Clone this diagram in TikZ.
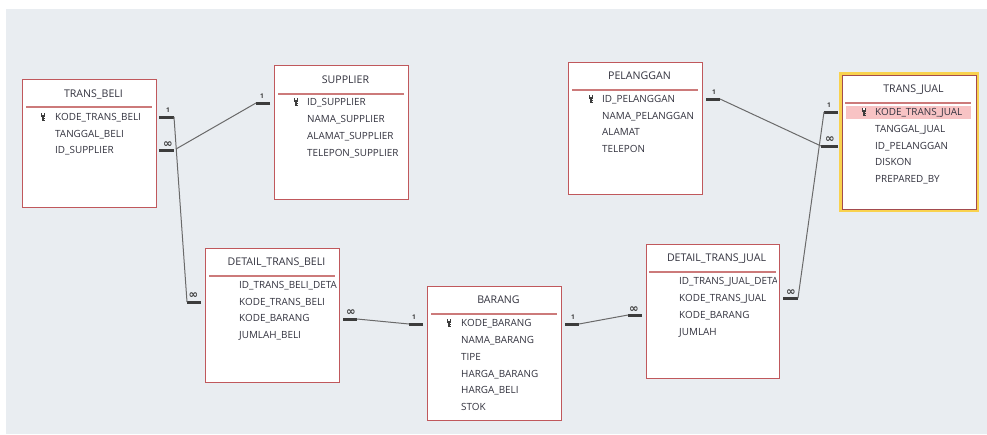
\documentclass[tikz,border=0pt]{standalone}
\usepackage{fontspec}
\setmainfont{Open Sans}
\newfontfamily\symfont{DejaVu Sans}
\definecolor{bggray}{HTML}{E9EDF1}
\definecolor{tblred}{HTML}{C0585C}
\definecolor{sepred}{HTML}{CC7A7A}
\definecolor{txtgray}{HTML}{33333F}
\definecolor{stubgray}{HTML}{3C3C3C}
\definecolor{linegray}{HTML}{6A6A6A}
\definecolor{selyellow}{HTML}{F9D24E}
\definecolor{selpink}{HTML}{F8C3C4}
\tikzset{
  tbl/.style={draw=tblred, fill=white, line width=1pt, inner sep=0pt, outer sep=0pt, anchor=north west, minimum width=134pt},
  sepline/.style={draw=sepred, line width=1.3pt},
  titletxt/.style={text=txtgray, inner sep=0pt, anchor=base, font=\fontsize{10.6}{12}\selectfont},
  fieldtxt/.style={text=txtgray, inner sep=0pt, anchor=base west, font=\fontsize{9.9}{12}\selectfont},
  stub/.style={draw=stubgray, line width=3pt},
  conn/.style={draw=linegray, line width=1pt},
  onelbl/.style={text=stubgray, inner sep=0pt, font=\fontsize{6.5}{7}\bfseries\selectfont},
  manylbl/.style={text=stubgray, inner sep=0pt, font=\symfont\fontsize{11.5}{11}\bfseries\selectfont},
  keyicon/.style={fill=stubgray}
}
\newcommand{\keyat}[2]{%
  \fill[keyicon] (#1-1.8,#2-4.5) rectangle (#1+1.8,#2-0.5);
  \fill[white] (#1-0.6,#2-3.6) rectangle (#1+0.6,#2-2.4);
  \fill[keyicon] (#1-0.8,#2-0.5) rectangle (#1+0.8,#2+4);
  \fill[keyicon] (#1+0.8,#2+1.2) rectangle (#1+1.8,#2+2);
  \fill[keyicon] (#1+0.8,#2+2.9) rectangle (#1+1.8,#2+3.7);
}
\begin{document}
\begin{tikzpicture}[x=1pt,y=-1pt]
\useasboundingbox (0,0) rectangle (987,434);
\fill[white] (0,0) rectangle (987,434);
\fill[bggray] (6,9) rectangle (987,434);

% ---------- TRANS_BELI ----------
\node[tbl, minimum height=128pt] (transbeli) at (22,79) {};
\draw[sepline] (26,107) -- (152,107);
\node[titletxt] (transbeli-t) at (93.5,97.8) {TRANS\_BELI};
\keyat{43}{117}
\node[fieldtxt] (transbeli-f1) at (55,120.5) {KODE\_TRANS\_BELI};
\node[fieldtxt] (transbeli-f2) at (55,137) {TANGGAL\_BELI};
\node[fieldtxt] (transbeli-f3) at (55,153.5) {ID\_SUPPLIER};

% ---------- SUPPLIER ----------
\node[tbl, minimum height=134pt] (supplier) at (274,65) {};
\draw[sepline] (278,94) -- (404,94);
\node[titletxt] (supplier-t) at (345.5,83.8) {SUPPLIER};
\keyat{296}{102}
\node[fieldtxt] (supplier-f1) at (307,105.5) {ID\_SUPPLIER};
\node[fieldtxt] (supplier-f2) at (307,122.5) {NAMA\_SUPPLIER};
\node[fieldtxt] (supplier-f3) at (307,139.5) {ALAMAT\_SUPPLIER};
\node[fieldtxt] (supplier-f4) at (307,156.5) {TELEPON\_SUPPLIER};

% ---------- PELANGGAN ----------
\node[tbl, minimum height=132pt] (pelanggan) at (568,62) {};
\draw[sepline] (572,90) -- (698,90);
\node[titletxt] (pelanggan-t) at (639.5,79.8) {PELANGGAN};
\keyat{591}{99}
\node[fieldtxt] (pelanggan-f1) at (602,102.5) {ID\_PELANGGAN};
\node[fieldtxt] (pelanggan-f2) at (602,119.5) {NAMA\_PELANGGAN};
\node[fieldtxt] (pelanggan-f3) at (602,135.5) {ALAMAT};
\node[fieldtxt] (pelanggan-f4) at (602,152.5) {TELEPON};

% ---------- TRANS_JUAL (selected) ----------
\draw[selyellow, line width=3.5pt] (840.5,73.5) rectangle (977,210.5);
\node[tbl, minimum height=134pt, draw=tblred!85!black] (transjual) at (842,75) {};
\draw[sepline] (845,103) -- (971,103);
\fill[selpink] (846,106) rectangle (971,119);
\node[titletxt] (transjual-t) at (913.5,92.8) {TRANS\_JUAL};
\keyat{864}{112}
\node[fieldtxt] (transjual-f1) at (875,115.5) {KODE\_TRANS\_JUAL};
\node[fieldtxt] (transjual-f2) at (875,132.5) {TANGGAL\_JUAL};
\node[fieldtxt] (transjual-f3) at (875,149.5) {ID\_PELANGGAN};
\node[fieldtxt] (transjual-f4) at (875,165.5) {DISKON};
\node[fieldtxt] (transjual-f5) at (875,182.5) {PREPARED\_BY};

% ---------- DETAIL_TRANS_BELI ----------
\node[tbl, minimum height=134pt] (dtbeli) at (205,248) {};
\draw[sepline] (209,276) -- (335,276);
\node[titletxt] (dtbeli-t) at (276.5,265.8) {DETAIL\_TRANS\_BELI};
\begin{scope}
\clip (205,248) rectangle (336,382);
\node[fieldtxt] (dtbeli-f1) at (239,288.5) {ID\_TRANS\_BELI\_DETAIL};
\end{scope}
\node[fieldtxt] (dtbeli-f2) at (239,305.5) {KODE\_TRANS\_BELI};
\node[fieldtxt] (dtbeli-f3) at (239,321.5) {KODE\_BARANG};
\node[fieldtxt] (dtbeli-f4) at (239,338.5) {JUMLAH\_BELI};

% ---------- BARANG ----------
\node[tbl, minimum height=134pt] (barang) at (427,286) {};
\draw[sepline] (431,314) -- (557,314);
\node[titletxt] (barang-t) at (498.5,303.8) {BARANG};
\keyat{449}{323}
\node[fieldtxt] (barang-f1) at (461,326.5) {KODE\_BARANG};
\node[fieldtxt] (barang-f2) at (461,343.5) {NAMA\_BARANG};
\node[fieldtxt] (barang-f3) at (461,360.5) {TIPE};
\node[fieldtxt] (barang-f4) at (461,377.5) {HARGA\_BARANG};
\node[fieldtxt] (barang-f5) at (461,393.5) {HARGA\_BELI};
\node[fieldtxt] (barang-f6) at (461,410.5) {STOK};

% ---------- DETAIL_TRANS_JUAL ----------
\node[tbl, minimum width=133pt, minimum height=134pt] (dtjual) at (646,244) {};
\draw[sepline] (649,272) -- (776,272);
\node[titletxt] (dtjual-t) at (716.5,261.8) {DETAIL\_TRANS\_JUAL};
\begin{scope}
\clip (646,244) rectangle (776.5,378);
\node[fieldtxt] (dtjual-f1) at (679,284.5) {ID\_TRANS\_JUAL\_DETAIL};
\end{scope}
\node[fieldtxt] (dtjual-f2) at (679,301.5) {KODE\_TRANS\_JUAL};
\node[fieldtxt] (dtjual-f3) at (679,318.5) {KODE\_BARANG};
\node[fieldtxt] (dtjual-f4) at (679,335.5) {JUMLAH};

% ---------- relationship stubs (named ends) ----------
\coordinate (tb1a) at (159,117);   \coordinate (tb1b) at (174,117);
\coordinate (tbMa) at (159,150);   \coordinate (tbMb) at (174,150);
\coordinate (sp1a) at (270,103);   \coordinate (sp1b) at (256,103);
\coordinate (dbLa) at (201,302);   \coordinate (dbLb) at (187,302);
\coordinate (dbRa) at (343,319);   \coordinate (dbRb) at (357,319);
\coordinate (brLa) at (423,324);   \coordinate (brLb) at (409,324);
\coordinate (brRa) at (565,324);   \coordinate (brRb) at (579,324);
\coordinate (djLa) at (642,315);   \coordinate (djLb) at (628,315);
\coordinate (djRa) at (783,298);   \coordinate (djRb) at (798,298);
\coordinate (pl1a) at (706,99);    \coordinate (pl1b) at (720,99);
\coordinate (tj1a) at (838,112);   \coordinate (tj1b) at (824,112);
\coordinate (tjMa) at (838,146);   \coordinate (tjMb) at (821,146);

\foreach \a/\b in {tb1a/tb1b,tbMa/tbMb,sp1a/sp1b,dbLa/dbLb,dbRa/dbRb,brLa/brLb,brRa/brRb,djLa/djLb,djRa/djRb,pl1a/pl1b,tj1a/tj1b,tjMa/tjMb}
  \draw[stub] (\a) -- (\b);

% connectors
\draw[conn] (tb1b) -- (dbLb);
\draw[conn] (tbMb) ++(2,-1) coordinate (tbMc) -- (sp1b);
\draw[conn] (dbRb) -- (brLb);
\draw[conn] (brRb) -- (djLb);
\draw[conn] (pl1b) -- (tjMb);
\draw[conn] (tj1b) -- (djRb);

% cardinality labels
\node[onelbl] (l-tb1) at (168,110) {1};
\node[manylbl] (l-tbM) at (168,144.5) {∞};
\node[onelbl] (l-sp1) at (262,96.5) {1};
\node[manylbl] (l-dbL) at (193.5,296) {∞};
\node[manylbl] (l-dbR) at (351,313) {∞};
\node[onelbl] (l-brL) at (414,317) {1};
\node[onelbl] (l-brR) at (573,317) {1};
\node[manylbl] (l-djL) at (634,309.5) {∞};
\node[manylbl] (l-djR) at (791,292.5) {∞};
\node[onelbl] (l-pl1) at (714,92.5) {1};
\node[onelbl] (l-tj1) at (829,105.5) {1};
\node[manylbl] (l-tjM) at (830,140) {∞};
\end{tikzpicture}
\end{document}
